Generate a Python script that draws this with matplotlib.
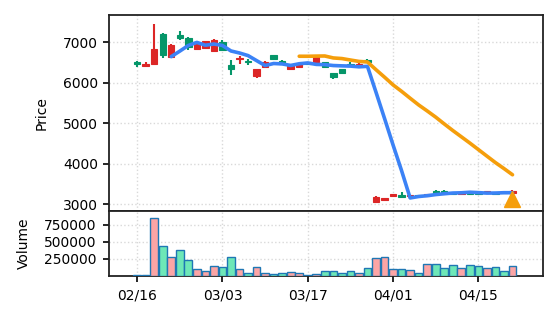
import matplotlib
matplotlib.use("Agg")
import matplotlib.pyplot as plt
import numpy as np
import pandas as pd

# ---- data ----
opens  = [6450, 6470, 6840, 6680, 6940, 7100, 6890, 6960, 7020, 7060,
          6810, 6330, 6620, 6500, 6330, 6510, 6580, 6470, 6450, 6450,
          6450, 6640, 6380, 6130, 6240, 6410, 6470, 6500, 3180, 3140,
          3240, 3180, 3220, 3190, 3240, 3270, 3270, 3250, 3290, 3240,
          3250, 3320, 3260, 3270, 3330]
closes = [6510, 6410, 6450, 7210, 6640, 7190, 7110, 6830, 6860, 6790,
          7010, 6430, 6580, 6540, 6170, 6400, 6680, 6530, 6350, 6380,
          6500, 6500, 6500, 6240, 6340, 6470, 6410, 6560, 3040, 3100,
          3190, 3230, 3190, 3220, 3200, 3330, 3330, 3280, 3250, 3270,
          3280, 3270, 3290, 3290, 3270]
highs  = [6530, 6500, 7440, 7220, 6960, 7270, 7120, 6980, 7040, 7080,
          7050, 6560, 6660, 6580, 6340, 6530, 6690, 6560, 6460, 6460,
          6520, 6650, 6510, 6250, 6350, 6510, 6480, 6580, 3190, 3160,
          3250, 3290, 3230, 3230, 3250, 3340, 3340, 3290, 3300, 3280,
          3290, 3330, 3300, 3300, 3350]
lows   = [6400, 6390, 6430, 6610, 6620, 7050, 6800, 6810, 6840, 6780,
          6780, 6200, 6460, 6430, 6120, 6390, 6570, 6440, 6330, 6370,
          6440, 6490, 6370, 6090, 6230, 6400, 6370, 6490, 3030, 3080,
          3180, 3170, 3180, 3180, 3190, 3260, 3260, 3240, 3240, 3230,
          3240, 3260, 3250, 3260, 3250]
volumes = [15000, 15000, 845000, 440000, 274000, 383000, 226000, 97000, 74000, 140000,
           126000, 283000, 97000, 46000, 131000, 46000, 26000, 46000, 60000, 46000,
           15000, 30000, 74000, 74000, 46000, 74000, 46000, 117000, 260000, 274000,
           107000, 107000, 83000, 50000, 169000, 169000, 117000, 155000, 121000, 155000,
           140000, 117000, 126000, 74000, 140000]
tick_pos = [0, 10, 20, 30, 40]
tick_labels = ["02/16", "03/03", "03/17", "04/01", "04/15"]
signal_idx = [44]
signal_price = [3130]

# ---- styling ----
UP, DOWN = "#059669", "#dc2626"
VUP, VDOWN = "#6ee7b7", "#fca5a5"
BLUE, ORANGE = "#3b82f6", "#f59e0b"

df = pd.DataFrame({"open": opens, "high": highs, "low": lows,
                   "close": closes, "volume": volumes})
x = np.arange(len(df))
ma5 = df["close"].rolling(5).mean()
ma20 = df["close"].rolling(20).mean()
up = df["close"] >= df["open"]

fig = plt.figure(figsize=(5.56, 3.22), dpi=100)
ax = fig.add_axes([0.196, 0.345, 0.781, 0.608])
axv = fig.add_axes([0.196, 0.143, 0.781, 0.202], sharex=ax)

# candles
ccol = np.where(up, UP, DOWN)
ax.vlines(x, df["low"], df["high"], colors=ccol, linewidth=1.5, zorder=2)
body_bottom = np.minimum(df["open"], df["close"])
body_h = np.maximum(np.abs(df["close"] - df["open"]), 15)
ax.bar(x, body_h, bottom=body_bottom, width=0.75, color=ccol, edgecolor=ccol,
       linewidth=0.8, zorder=3)

ax.plot(x, ma5, color=BLUE, linewidth=2.6, zorder=4,
        solid_joinstyle="round", solid_capstyle="round")
ax.plot(x, ma20, color=ORANGE, linewidth=2.6, zorder=5,
        solid_joinstyle="round", solid_capstyle="round")
ax.plot(signal_idx, signal_price, marker="^", color=ORANGE, markersize=12,
        linestyle="none", zorder=6)

ax.set_ylim(2830, 7670)
ax.set_yticks([3000, 4000, 5000, 6000, 7000])
ax.set_ylabel("Price", fontsize=10, labelpad=10.5)
ax.grid(True, linestyle=":", color="#d9d9d9", linewidth=1.0)
ax.set_axisbelow(True)
ax.tick_params(axis="x", labelbottom=False, length=0)
ax.tick_params(axis="y", labelsize=10, length=4.5, width=1.2)

# volume
vcol = np.where(up, VUP, VDOWN)
axv.bar(x, df["volume"], width=0.9, color=vcol, edgecolor="#1f77b4",
        linewidth=1.0, zorder=3)
axv.set_ylim(0, 950000)
axv.set_yticks([250000, 500000, 750000])
axv.ticklabel_format(axis="y", style="plain", useOffset=False)
axv.set_ylabel("Volume", fontsize=10, labelpad=9.5)
axv.grid(True, linestyle=":", color="#d9d9d9", linewidth=1.0)
axv.set_axisbelow(True)
axv.tick_params(labelsize=10, length=4.5, width=1.2, pad=4.5)

axv.set_xlim(-3.3, 47.6)
axv.set_xticks(tick_pos)
axv.set_xticklabels(tick_labels)

for a in (ax, axv):
    for s in a.spines.values():
        s.set_linewidth(1.3)
        s.set_color("#222222")

fig.savefig("out.png", dpi=100)
